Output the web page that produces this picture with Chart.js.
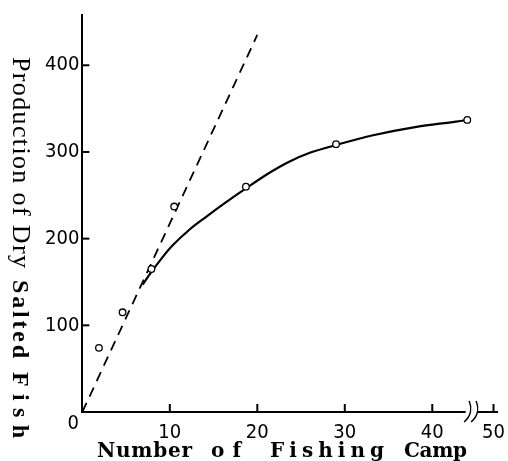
<!DOCTYPE html>
<html><head><meta charset="utf-8">
<script src="https://cdn.jsdelivr.net/npm/chart.js@4"></script>
<style>html,body{margin:0;padding:0;background:#fff}#wrap{width:508px;height:461px;position:relative}</style>
</head><body><div id="wrap"><canvas id="c"></canvas></div>
<script>
// ---- data ----
const curveX = [6.9, 8, 9.2, 10.3, 12.2, 14, 16, 18.7, 21.4, 23.7, 26, 29, 33.1, 38.2, 42.7, 44];
const curveY = [147, 163, 179, 192, 210, 224, 239, 258, 276, 289, 299, 308, 319, 329, 335, 337];
const obsX = [1.9, 4.6, 7.9, 10.5, 18.7, 29, 44];
const obsY = [74, 115, 165, 237, 260, 309, 337];
const lineX = [0, 20];
const lineY = [0, 435];
const yTicks = [100, 200, 300, 400];
const xTicks = [10, 20, 30, 40, 50];
const xBreakFrom = 50, xBreakTo = 47;   // axis break: 50 is drawn at the compressed position 47
const xBreakMark = 44.5;
const xTitleParts = ['Number', 'of', 'Fishing', 'Camp'];
const yTitleParts = ['Production of Dry', 'Salted', 'Fish'];

const tickFamily = "'Liberation Sans Narrow', 'DejaVu Sans Condensed', 'Arial Narrow', sans-serif";
const tickFont = "20px " + tickFamily;

function pts(xs, ys){ return xs.map((v,i)=>({x:v, y:ys[i]})); }

function fitText(ctx, text, font, x0, y0, length, rotate){
  ctx.save();
  ctx.font = font;
  ctx.translate(x0, y0);
  if (rotate) ctx.rotate(Math.PI/2);
  ctx.letterSpacing = '0px';
  const w = ctx.measureText(text).width;
  const n = text.length;
  const gap = n > 1 ? (length - w) / (n - 1) : 0;
  ctx.letterSpacing = gap + 'px';
  ctx.textAlign = 'left';
  ctx.textBaseline = 'alphabetic';
  ctx.fillStyle = '#000';
  ctx.fillText(text, 0, 0);
  ctx.restore();
}

const decor = {
  id: 'decor',
  afterDraw(chart){
    const {ctx, chartArea: a, scales: {x, y}} = chart;
    ctx.save();
    ctx.strokeStyle = '#000';
    ctx.lineWidth = 2;
    yTicks.forEach(v => {
      const py = y.getPixelForValue(v);
      ctx.beginPath(); ctx.moveTo(a.left, py); ctx.lineTo(a.left + 7, py); ctx.stroke();
    });
    xTicks.forEach(v => {
      const px = x.getPixelForValue(v === xBreakFrom ? xBreakTo : v);
      ctx.beginPath(); ctx.moveTo(px, a.bottom); ctx.lineTo(px, a.bottom - 8); ctx.stroke();
    });
    // axis break
    const bx = x.getPixelForValue(xBreakMark);
    ctx.fillStyle = '#fff';
    ctx.fillRect(bx - 6, a.bottom - 3, 12, 6);
    ctx.lineWidth = 1.6;
    [-3.5, 3.5].forEach(dx => {
      ctx.beginPath();
      ctx.moveTo(bx + dx - 4, a.bottom + 10);
      ctx.bezierCurveTo(bx + dx + 3, a.bottom + 4, bx + dx + 4, a.bottom - 4, bx + dx + 1, a.bottom - 11);
      ctx.stroke();
    });
    // origin label
    ctx.fillStyle = '#000';
    ctx.font = tickFont;
    ctx.textAlign = 'center';
    ctx.textBaseline = 'middle';
    ctx.fillText('0', a.left - 9, a.bottom + 12);
    ctx.restore();

    // x title
    const xf = "bold 20px 'DejaVu Serif', 'Liberation Serif', serif";
    const xSpans = [[97, 192], [211, 241], [270, 384], [404, 467]];
    xTitleParts.forEach((t, i) => fitText(ctx, t, xf, xSpans[i][0], 457, xSpans[i][1] - xSpans[i][0], false));
    // y title (rotated clockwise)
    const yf = ["26px 'Liberation Serif', 'DejaVu Serif', serif",
                "bold 24px 'Liberation Serif', 'DejaVu Serif', serif",
                "bold 24px 'Liberation Serif', 'DejaVu Serif', serif"];
    const ySpans = [[57, 268], [280, 358], [372, 438]];
    yTitleParts.forEach((t, i) => fitText(ctx, t, yf[i], 13, ySpans[i][0], ySpans[i][1] - ySpans[i][0], true));
  }
};

new Chart(document.getElementById('c'), {
  type: 'scatter',
  data: {
    datasets: [
      { type: 'scatter', data: pts(obsX, obsY), pointRadius: 3.3, pointHoverRadius: 3.3,
        pointBackgroundColor: '#fff', pointBorderColor: '#000', pointBorderWidth: 1.3, order: 0 },
      { type: 'line', data: pts(curveX, curveY), borderColor: '#000', borderWidth: 2.2,
        pointRadius: 0, cubicInterpolationMode: 'monotone', fill: false, order: 1 },
      { type: 'line', data: pts(lineX, lineY), borderColor: '#000', borderWidth: 1.8,
        borderDash: [10, 7], pointRadius: 0, fill: false, order: 2 }
    ]
  },
  options: {
    responsive: true, maintainAspectRatio: false, animation: false,
    layout: { padding: { left: 42, right: 11, top: 12, bottom: 7 } },
    plugins: { legend: { display: false }, tooltip: { enabled: false } },
    scales: {
      x: {
        type: 'linear', min: 0, max: 47.4,
        afterBuildTicks: s => { s.ticks = xTicks.map(v => ({ value: v === xBreakFrom ? xBreakTo : v })); },
        afterFit: s => { s.paddingRight = 0; s.paddingLeft = 0; },
        ticks: { color: '#000', font: { family: tickFamily, size: 20 },
                 padding: 9, maxRotation: 0, autoSkip: false,
                 callback: v => String(v === xBreakTo ? xBreakFrom : v) },
        grid: { display: false, drawTicks: false },
        border: { display: true, color: '#000', width: 2 }
      },
      y: {
        min: 0, max: 458,
        afterBuildTicks: s => { s.ticks = yTicks.map(v => ({ value: v })); },
        ticks: { color: '#000', font: { family: tickFamily, size: 20 }, padding: 3 },
        grid: { display: false, drawTicks: false },
        border: { display: true, color: '#000', width: 2 }
      }
    }
  },
  plugins: [decor]
});
</script>
</body></html>
